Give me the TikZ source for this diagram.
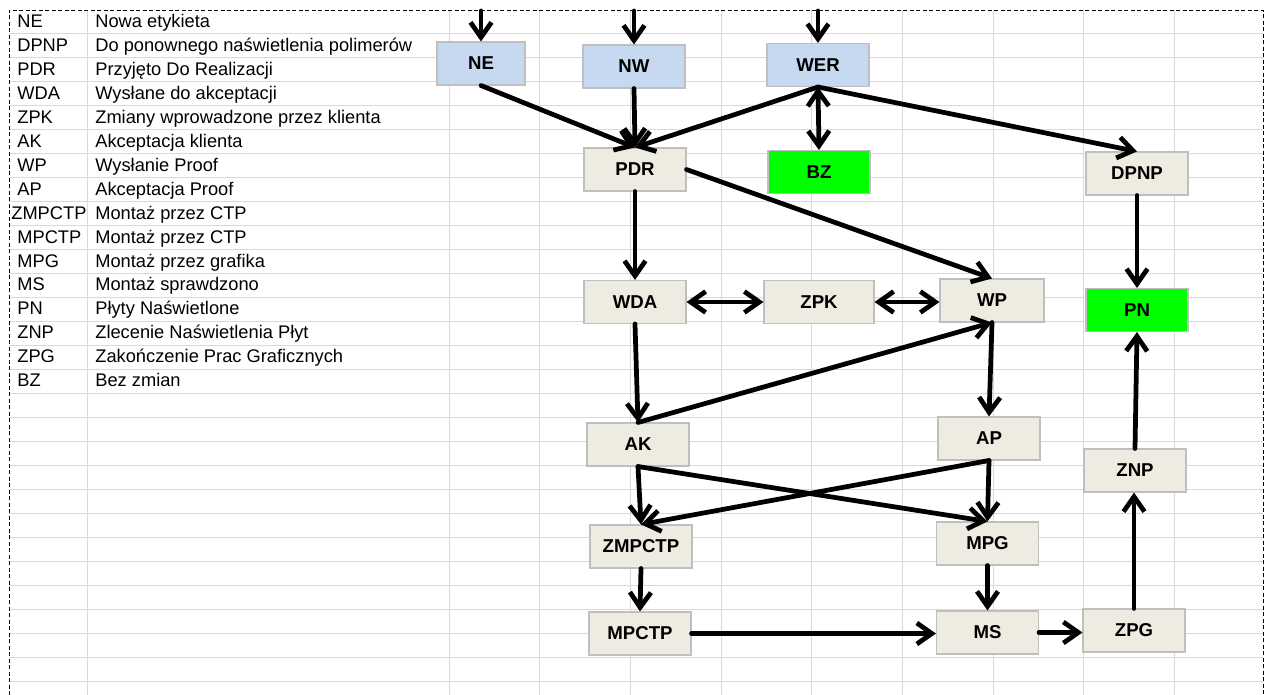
\documentclass[tikz,border=0pt]{standalone}
\usepackage{fontspec}
\setmainfont{Liberation Sans}
\usepackage{xcolor}
\usetikzlibrary{arrows.meta}
\definecolor{cellline}{HTML}{D9D9D9}
\definecolor{newblue}{HTML}{C6D9F1}
\definecolor{stagebeige}{HTML}{EEECE1}
\definecolor{boxline}{HTML}{BFBFBF}
\definecolor{donegreen}{HTML}{00FF00}

\begin{document}
\begin{tikzpicture}[x=0.02cm, y=-0.02cm,
  stage/.style={draw=boxline, line width=0.6pt, fill=stagebeige, minimum width=2.04cm, minimum height=0.86cm, inner sep=0pt, font=\fontsize{10.6}{12}\selectfont\bfseries},
  newstage/.style={stage, fill=newblue},
  donestage/.style={stage, fill=donegreen},
  flow/.style={-{Straight Barb[length=0.3cm, width=0.42cm]}, line width=2.7pt, line cap=round, line join=round},
  flowboth/.style={flow, {Straight Barb[length=0.3cm, width=0.42cm]}-{Straight Barb[length=0.3cm, width=0.42cm]}},
  legend/.style={anchor=base west, inner sep=0pt, font=\fontsize{10.4}{12}\selectfont}]
\useasboundingbox (0,0) rectangle (1267,695);

\foreach \y in {33,57,...,681} \draw[cellline, line width=0.5pt] (9,\y) -- (1263,\y);
\foreach \x in {87,449,539.7,630.3,721,811.7,902.3,993,1083.7,1174.3} \draw[cellline, line width=0.5pt] (\x,10) -- (\x,695);
\draw[dash pattern=on 0.08cm off 0.05cm, line width=0.5pt] (9,695) -- (9,10) -- (1263,10) -- (1263,695);

\node[legend] (kne) at (17,28) {NE};          \node[legend] (one) at (95,28) {Nowa etykieta};
\node[legend] (kdpnp) at (17,52) {DPNP};      \node[legend] (odpnp) at (95,52) {Do ponownego naświetlenia polimerów};
\node[legend] (kpdr) at (17,76) {PDR};        \node[legend] (opdr) at (95,76) {Przyjęto Do Realizacji};
\node[legend] (kwda) at (17,100) {WDA};       \node[legend] (owda) at (95,100) {Wysłane do akceptacji};
\node[legend] (kzpk) at (17,124) {ZPK};       \node[legend] (ozpk) at (95,124) {Zmiany wprowadzone przez klienta};
\node[legend] (kak) at (17,148) {AK};         \node[legend] (oak) at (95,148) {Akceptacja klienta};
\node[legend] (kwp) at (17,172) {WP};         \node[legend] (owp) at (95,172) {Wysłanie Proof};
\node[legend] (kap) at (17,196) {AP};         \node[legend] (oap) at (95,196) {Akceptacja Proof};
\node[legend] (kzmpctp) at (11,220) {ZMPCTP}; \node[legend] (ozmpctp) at (95,220) {Montaż przez CTP};
\node[legend] (kmpctp) at (17,244) {MPCTP};   \node[legend] (ompctp) at (95,244) {Montaż przez CTP};
\node[legend] (kmpg) at (17,268) {MPG};       \node[legend] (ompg) at (95,268) {Montaż przez grafika};
\node[legend] (kms) at (17,291) {MS};         \node[legend] (oms) at (95,291) {Montaż sprawdzono};
\node[legend] (kpn) at (17,315) {PN};         \node[legend] (opn) at (95,315) {Płyty Naświetlone};
\node[legend] (kznp) at (17,339) {ZNP};       \node[legend] (oznp) at (95,339) {Zlecenie Naświetlenia Płyt};
\node[legend] (kzpg) at (17,363) {ZPG};       \node[legend] (ozpg) at (95,363) {Zakończenie Prac Graficznych};
\node[legend] (kbz) at (17,387) {BZ};         \node[legend] (obz) at (95,387) {Bez zmian};

\node[newstage, minimum width=1.76cm] (ne) at (481,63.5) {NE};
\node[newstage] (nw) at (634,66.5) {NW};
\node[newstage] (wer) at (818,65) {WER};
\node[stage] (pdr) at (635,169.5) {PDR};
\node[donestage] (bz) at (819,172) {BZ};
\node[stage] (dpnp) at (1137,173.5) {DPNP};
\node[stage] (wda) at (635,302) {WDA};
\node[stage, minimum width=2.2cm] (zpk) at (819,302) {ZPK};
\node[stage, minimum width=2.08cm] (wp) at (992,300.5) {WP};
\node[donestage] (pn) at (1137,310) {PN};
\node[stage] (ak) at (638,444.5) {AK};
\node[stage] (ap) at (989,438.5) {AP};
\node[stage] (znp) at (1135,470.5) {ZNP};
\node[stage] (zmpctp) at (641,546.5) {ZMPCTP};
\node[stage] (mpg) at (987.5,543.5) {MPG};
\node[stage] (mpctp) at (640,633.5) {MPCTP};
\node[stage] (ms) at (987.5,632.5) {MS};
\node[stage] (zpg) at (1134,630.5) {ZPG};

\coordinate (nein) at (481,11);
\coordinate (nwin) at (634,11);
\coordinate (werin) at (818,11);

\draw[flow] (nein) -- (ne.north);
\draw[flow] (nwin) -- (nw.north);
\draw[flow] (werin) -- (wer.north);
\draw[flow] (ne.south) -- (pdr.north);
\draw[flow] (nw.south) -- (pdr.north);
\draw[flow] (wer.south) -- (pdr.north);
\draw[flowboth] (wer.south) -- (bz.north);
\draw[flow] (wer.south) -- (dpnp.north);
\draw[flow] (pdr.south) -- (wda.north);
\draw[flow] (pdr.east) -- (wp.north);
\draw[flow] (dpnp.south) -- (pn.north);
\draw[flowboth] (wda.east) -- (zpk.west);
\draw[flowboth] (zpk.east) -- (zpk.east -| wp.west);
\draw[flow] (wda.south) -- (ak.north);
\draw[flow] (ak.north) -- (wp.south);
\draw[flow] (wp.south) -- (ap.north);
\draw[flow] (ak.south) -- (zmpctp.north);
\draw[flow] (ak.south) -- (mpg.north);
\draw[flow] (ap.south) -- (zmpctp.north);
\draw[flow] (ap.south) -- (mpg.north);
\draw[flow] (zmpctp.south) -- (mpctp.north);
\draw[flow] (mpg.south) -- (ms.north);
\draw[flow] (mpctp.east) -- (mpctp.east -| ms.west);
\draw[flow] (ms.east) -- (ms.east -| zpg.west);
\draw[flow] (zpg.north) -- (zpg.north |- znp.south);
\draw[flow] (znp.north) -- (pn.south);
\end{tikzpicture}
\end{document}
